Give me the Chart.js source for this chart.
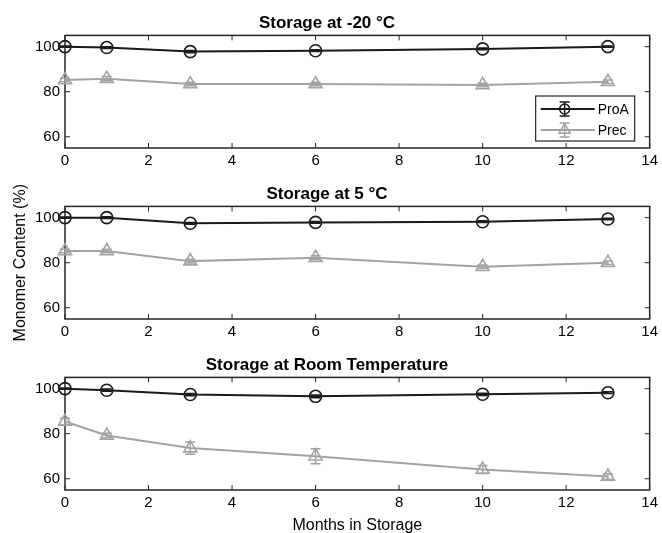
<!DOCTYPE html>
<html>
<head>
<meta charset="utf-8">
<script src="https://cdn.jsdelivr.net/npm/chart.js@4.4.1/dist/chart.umd.min.js"></script>
<style>
  html, body { margin: 0; padding: 0; background: #fff; overflow: hidden; }
  #wrap { position: relative; width: 662px; height: 533px; overflow: hidden; }
  canvas { position: absolute; left: 0; }
</style>
</head>
<body>
<div id="wrap">
  <canvas id="c1" width="662" height="171" style="top:0px"></canvas>
  <canvas id="c2" width="662" height="171" style="top:171px"></canvas>
  <canvas id="c3" width="662" height="200" style="top:342px"></canvas>
</div>
<script>
// months in storage
const months = [0, 1, 3, 6, 10, 13];
const xTicks = [0, 2, 4, 6, 8, 10, 12, 14];
const yTicks = [60, 80, 100];

// -20 °C
const proAMinus20 = [100, 99.6, 97.8, 98.2, 99.0, 100];
const precMinus20 = [85.2, 85.8, 83.4, 83.4, 83.0, 84.4];
const proAMinus20Err = [0.3, 0.4, 0.5, 0.4, 0.4, 0.3];
const precMinus20Err = [0.8, 0.9, 0.8, 0.8, 0.8, 0.8];

// 5 °C
const proA5 = [100, 100, 97.5, 97.9, 98.2, 99.4];
const prec5 = [85.2, 85.2, 80.7, 82.2, 78.2, 80.0];
const proA5Err = [0.3, 0.4, 0.4, 0.4, 0.4, 0.3];
const prec5Err = [0.8, 0.8, 0.8, 0.9, 0.8, 0.8];

// room temperature
const proART = [100, 99.3, 97.4, 96.6, 97.5, 98.2];
const precRT = [85.4, 79.2, 73.6, 70.0, 64.1, 61.0];
const proARTErr = [0.3, 0.5, 0.5, 0.6, 0.5, 0.4];
const precRTErr = [1.5, 1.0, 2.7, 3.3, 1.8, 1.2];

const FONT = "'Liberation Sans', Arial, Helvetica, sans-serif";
const BLACK = '#1a1a1a';
const GREY = '#a3a3a3';
const TXT = '#000';

// box round the axes with inward ticks on all four sides
const frame = {
  id: 'frame',
  beforeDatasetsDraw(chart) {
    const { ctx, chartArea: a, scales: { x, y } } = chart;
    ctx.save();
    ctx.strokeStyle = '#262626';
    ctx.lineWidth = 1.5;
    ctx.strokeRect(a.left, a.top, a.right - a.left, a.bottom - a.top);
    ctx.lineWidth = 1;
    ctx.beginPath();
    x.ticks.forEach(t => {
      const px = x.getPixelForValue(t.value);
      ctx.moveTo(px, a.bottom); ctx.lineTo(px, a.bottom - 5);
      ctx.moveTo(px, a.top); ctx.lineTo(px, a.top + 5);
    });
    y.ticks.forEach(t => {
      const py = y.getPixelForValue(t.value);
      ctx.moveTo(a.left, py); ctx.lineTo(a.left + 5, py);
      ctx.moveTo(a.right, py); ctx.lineTo(a.right - 5, py);
    });
    ctx.stroke();
    ctx.restore();
  }
};

const errorBars = {
  id: 'errorBars',
  afterDatasetsDraw(chart, args, opts) {
    const { ctx, scales: { y } } = chart;
    ctx.save();
    chart.data.datasets.forEach((ds, i) => {
      const errs = opts.errors[i];
      if (!errs) return;
      const meta = chart.getDatasetMeta(i);
      ctx.strokeStyle = ds.borderColor;
      ctx.lineWidth = 1.5;
      ctx.beginPath();
      meta.data.forEach((pt, j) => {
        const v = ds.data[j];
        const top = y.getPixelForValue(v + errs[j]);
        const bot = y.getPixelForValue(v - errs[j]);
        ctx.moveTo(pt.x, top); ctx.lineTo(pt.x, bot);
        ctx.moveTo(pt.x - 5, top); ctx.lineTo(pt.x + 5, top);
        ctx.moveTo(pt.x - 5, bot); ctx.lineTo(pt.x + 5, bot);
      });
      ctx.stroke();
    });
    ctx.restore();
  }
};

// MATLAB-style legend box in the lower right of the axes
const boxLegend = {
  id: 'boxLegend',
  afterDraw(chart, args, opts) {
    if (!opts.show) return;
    const { ctx, chartArea: a } = chart;
    const w = 99, h = 45;
    const bx = a.right - 15 - w, by = a.bottom - 7 - h;
    ctx.save();
    ctx.fillStyle = '#fff';
    ctx.fillRect(bx, by, w, h);
    ctx.strokeStyle = '#262626';
    ctx.lineWidth = 1.2;
    ctx.strokeRect(bx, by, w, h);
    chart.data.datasets.forEach((ds, i) => {
      const cy = by + 13 + i * 21;
      const cx = bx + 29;
      ctx.strokeStyle = ds.borderColor;
      ctx.lineWidth = 2;
      ctx.beginPath();
      ctx.moveTo(bx + 5, cy); ctx.lineTo(bx + 59, cy);
      ctx.stroke();
      ctx.lineWidth = 1.5;
      ctx.beginPath();
      ctx.moveTo(cx, cy - 7); ctx.lineTo(cx, cy + 7);
      ctx.moveTo(cx - 5, cy - 7); ctx.lineTo(cx + 5, cy - 7);
      ctx.moveTo(cx - 5, cy + 7); ctx.lineTo(cx + 5, cy + 7);
      ctx.stroke();
      ctx.fillStyle = 'rgba(0,0,0,0)';
      ctx.lineWidth = 1.5;
      Chart.helpers.drawPoint(ctx, {
        pointStyle: ds.pointStyle, radius: ds.pointRadius - 1, borderWidth: 1.5
      }, cx, cy);
      ctx.fillStyle = TXT;
      ctx.font = '14px ' + FONT;
      ctx.textBaseline = 'middle';
      ctx.textAlign = 'left';
      ctx.fillText(ds.label, bx + 62, cy + 1);
    });
    ctx.restore();
  }
};

function makePanel(id, title, proA, prec, proAErr, precErr, o) {
  new Chart(document.getElementById(id), {
    type: 'line',
    data: {
      labels: months,
      datasets: [
        {
          label: 'ProA',
          data: proA,
          borderColor: BLACK,
          borderWidth: 2,
          pointStyle: 'circle',
          pointRadius: 6,
          pointBorderWidth: 1.6,
          pointBorderColor: BLACK,
          pointBackgroundColor: 'rgba(0,0,0,0)',
          clip: false
        },
        {
          label: 'Prec',
          data: prec,
          borderColor: GREY,
          borderWidth: 2,
          pointStyle: 'triangle',
          pointRadius: 7.5,
          pointBorderWidth: 1.6,
          pointBorderColor: GREY,
          pointBackgroundColor: 'rgba(0,0,0,0)',
          clip: false
        }
      ]
    },
    options: {
      responsive: false,
      animation: false,
      layout: { padding: { left: 0, right: 8, top: 0, bottom: 0 } },
      plugins: {
        legend: { display: false },
        tooltip: { enabled: false },
        title: {
          display: true,
          text: title,
          color: TXT,
          font: { family: FONT, size: 17, weight: 'bold' },
          padding: { top: 13, bottom: 2 }
        },
        errorBars: { errors: [proAErr, precErr] },
        boxLegend: { show: !!o.legend }
      },
      scales: {
        x: {
          type: 'linear',
          min: 0,
          max: 14,
          afterBuildTicks: s => { s.ticks = xTicks.map(v => ({ value: v })); },
          afterFit: s => { s.height = o.xHeight; },
          grid: { display: false, drawTicks: false },
          border: { display: false },
          ticks: {
            padding: 4,
            maxRotation: 0,
            autoSkip: false,
            color: TXT,
            font: { family: FONT, size: 15 }
          },
          title: {
            display: !!o.xTitle,
            text: 'Months in Storage',
            color: TXT,
            font: { family: FONT, size: 16 },
            padding: { top: 0, bottom: 7 }
          }
        },
        y: {
          min: 55,
          max: 105,
          afterBuildTicks: s => { s.ticks = yTicks.map(v => ({ value: v })); },
          afterFit: s => { s.width = 65; },
          grid: { display: false, drawTicks: false },
          border: { display: false },
          ticks: {
            padding: 5,
            color: TXT,
            font: { family: FONT, size: 15 }
          },
          title: {
            display: !!o.yTitle,
            text: 'Monomer Content (%)',
            color: TXT,
            font: { family: FONT, size: 16 },
            padding: { top: 11, bottom: 0 }
          }
        }
      }
    },
    plugins: [frame, errorBars, boxLegend]
  });
}

makePanel('c1', 'Storage at -20 °C', proAMinus20, precMinus20, proAMinus20Err, precMinus20Err,
  { legend: true, xHeight: 23 });
makePanel('c2', 'Storage at 5 °C', proA5, prec5, proA5Err, prec5Err,
  { yTitle: true, xHeight: 23 });
makePanel('c3', 'Storage at Room Temperature', proART, precRT, proARTErr, precRTErr,
  { xTitle: true, xHeight: 52 });
</script>
</body>
</html>
